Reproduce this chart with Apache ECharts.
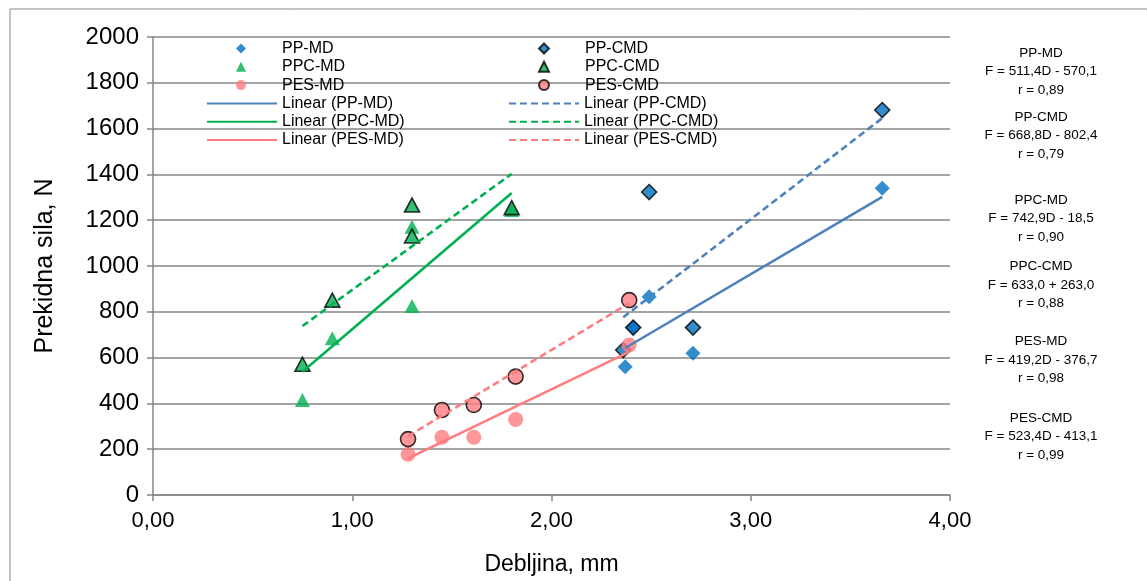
<!DOCTYPE html>
<html>
<head>
<meta charset="utf-8">
<script src="https://cdn.jsdelivr.net/npm/echarts@6/dist/echarts.min.js"></script>
<style>
html,body{margin:0;padding:0;background:#fff;}
#c{width:1147px;height:581px;}
</style>
</head>
<body>
<div id="c"></div>
<script>
// ---- data ----
const ppX = [2.37, 2.41, 2.49, 2.71, 3.66];
const ppMdY = [560, 731, 866, 619, 1339];
const ppCmdX = [2.36, 2.41, 2.49, 2.71, 3.66];
const ppCmdY = [633, 731, 1323, 731, 1681];
const ppcX = [0.75, 0.90, 1.30, 1.30, 1.80];
const ppcMdY = [415, 684, 1171, 825, 1245];
const ppcCmdY = [571, 851, 1266, 1131, 1255];
const pesX = [1.28, 1.45, 1.61, 1.82, 2.39];
const pesMdY = [178, 252, 252, 330, 655];
const pesCmdY = [244, 371, 393, 517, 851];

const seriesNames = ['PP-MD', 'PP-CMD', 'PPC-MD', 'PPC-CMD', 'PES-MD', 'PES-CMD'];
const slopes = [511.4, 668.8, 742.9, 633.0, 419.2, 523.4];
const intercepts = [-570.1, -802.4, -18.5, 263.0, -376.7, -413.1];
const eqTexts = ['F = 511,4D - 570,1', 'F = 668,8D - 802,4', 'F = 742,9D - 18,5',
                 'F = 633,0 + 263,0', 'F = 419,2D - 376,7', 'F = 523,4D - 413,1'];
const rTexts = ['r = 0,89', 'r = 0,79', 'r = 0,90', 'r = 0,88', 'r = 0,98', 'r = 0,99'];
const xTicks = [0, 1, 2, 3, 4];
const yTicks = [0, 200, 400, 600, 800, 1000, 1200, 1400, 1600, 1800, 2000];

// ---- styling ----
const FONT = '"Liberation Sans", Arial, sans-serif';
const BLUE = '#0070C0', BLUE_L = '#4F81BD', GREEN = '#00B050', PINK = '#FF7C80';
const seriesX = [ppX, ppCmdX, ppcX, ppcX, pesX, pesX];
const seriesY = [ppMdY, ppCmdY, ppcMdY, ppcCmdY, pesMdY, pesCmdY];
const markerColor = [BLUE, BLUE, GREEN, GREEN, PINK, PINK];
const lineColor = [BLUE_L, BLUE_L, GREEN, GREEN, PINK, PINK];
const symbols = ['diamond', 'diamond', 'triangle', 'triangle', 'circle', 'circle'];
const bordered = [false, true, false, true, false, true];

const series = [];
seriesNames.forEach((n, i) => {
  series.push({
    name: n, type: 'scatter', symbol: symbols[i],
    symbolSize: symbols[i] === 'triangle' ? [15, 14] : 15,
    data: seriesX[i].map((x, k) => [x, seriesY[i][k]]),
    itemStyle: bordered[i] ? {color: markerColor[i], borderColor: '#000', borderWidth: 1.6}
                          : {color: markerColor[i]},
    z: 2 + i * 0.01,
    emphasis: {disabled: true}
  });
});
seriesNames.forEach((n, i) => {
  const xs = seriesX[i];
  const x0 = Math.min(...xs), x1 = Math.max(...xs);
  series.push({
    name: 'Linear (' + n + ')', type: 'line', symbol: 'none', showSymbol: false,
    data: [[x0, slopes[i] * x0 + intercepts[i]], [x1, slopes[i] * x1 + intercepts[i]]],
    lineStyle: {color: lineColor[i], width: 2.6, type: bordered[i] ? [7, 4] : 'solid'},
    itemStyle: {color: lineColor[i]},
    z: 5, animation: false
  });
});

const ROW = 18.3, LTOP = 40.5, LFS = 16;
const textBase = {fontFamily: FONT, fontSize: LFS, color: '#000', lineHeight: 16};
function markerLegend(left, names) {
  return {orient: 'vertical', left: left, top: LTOP, padding: 0, itemWidth: 10, itemHeight: 10,
    itemGap: ROW - 16, selectedMode: false, data: names,
    textStyle: Object.assign({}, textBase, {padding: [0, 0, 0, 31]})};
}
function lineLegend(left, names) {
  return {orient: 'vertical', left: left, top: LTOP + 3 * ROW, padding: 0, itemWidth: 70, itemHeight: 10,
    itemGap: ROW - 16, selectedMode: false, data: names,
    itemStyle: {color: 'rgba(0,0,0,0)', borderWidth: 0, opacity: 0},
    textStyle: Object.assign({}, textBase)};
}
const markNames = seriesNames;
const legends = [
  markerLegend(236, [markNames[0], markNames[2], markNames[4]]),
  markerLegend(538, [markNames[1], markNames[3], markNames[5]]),
  lineLegend(206, [0, 2, 4].map(i => 'Linear (' + markNames[i] + ')')),
  lineLegend(508, [1, 3, 5].map(i => 'Linear (' + markNames[i] + ')'))
];

const graphics = [
  {type: 'rect', shape: {x: 10, y: 9, width: 1200, height: 650}, style: {fill: 'none', stroke: '#888', lineWidth: 1}, silent: true}
];
const blockY = [53, 117.3, 200, 266.7, 341.7, 418.3];
seriesNames.forEach((n, i) => {
  [n, eqTexts[i], rTexts[i]].forEach((t, k) => {
    graphics.push({
      type: 'text', x: 1041, y: blockY[i] + k * 18.4,
      style: {text: t, font: '13.5px ' + FONT, fill: '#000', textAlign: 'center', textVerticalAlign: 'middle'},
      silent: true
    });
  });
});

const chart = echarts.init(document.getElementById('c'), null, {renderer: 'canvas'});
chart.setOption({
  animation: false,
  backgroundColor: '#fff',
  grid: {left: 153, right: 197, top: 37, bottom: 86, containLabel: false},
  xAxis: {
    type: 'value', min: 0, max: 4, interval: 1,
    name: 'Debljina, mm', nameLocation: 'middle', nameGap: 58,
    nameTextStyle: {fontFamily: FONT, fontSize: 23, color: '#000'},
    axisLine: {show: true, lineStyle: {color: '#868686', width: 1.5}},
    axisTick: {show: true, length: 6, lineStyle: {color: '#868686', width: 1.5}},
    axisLabel: {fontFamily: FONT, fontSize: 22, color: '#000', margin: 15,
      formatter: v => xTicks.includes(v) ? v.toFixed(2).replace('.', ',') : ''},
    splitLine: {show: false}
  },
  yAxis: {
    type: 'value', min: 0, max: 2000, interval: 200,
    name: 'Prekidna sila, N', nameLocation: 'middle', nameGap: 95,
    nameTextStyle: {fontFamily: FONT, fontSize: 25, color: '#000'},
    axisLine: {show: true, lineStyle: {color: '#868686', width: 1.5}},
    axisTick: {show: true, length: 6, lineStyle: {color: '#868686', width: 1.5}},
    axisLabel: {fontFamily: FONT, fontSize: 24, color: '#000', margin: 14,
      formatter: v => yTicks.includes(v) ? String(v) : ''},
    splitLine: {show: true, lineStyle: {color: '#868686', width: 1.5}}
  },
  legend: legends,
  graphic: graphics,
  series: series
});
</script>
</body>
</html>
